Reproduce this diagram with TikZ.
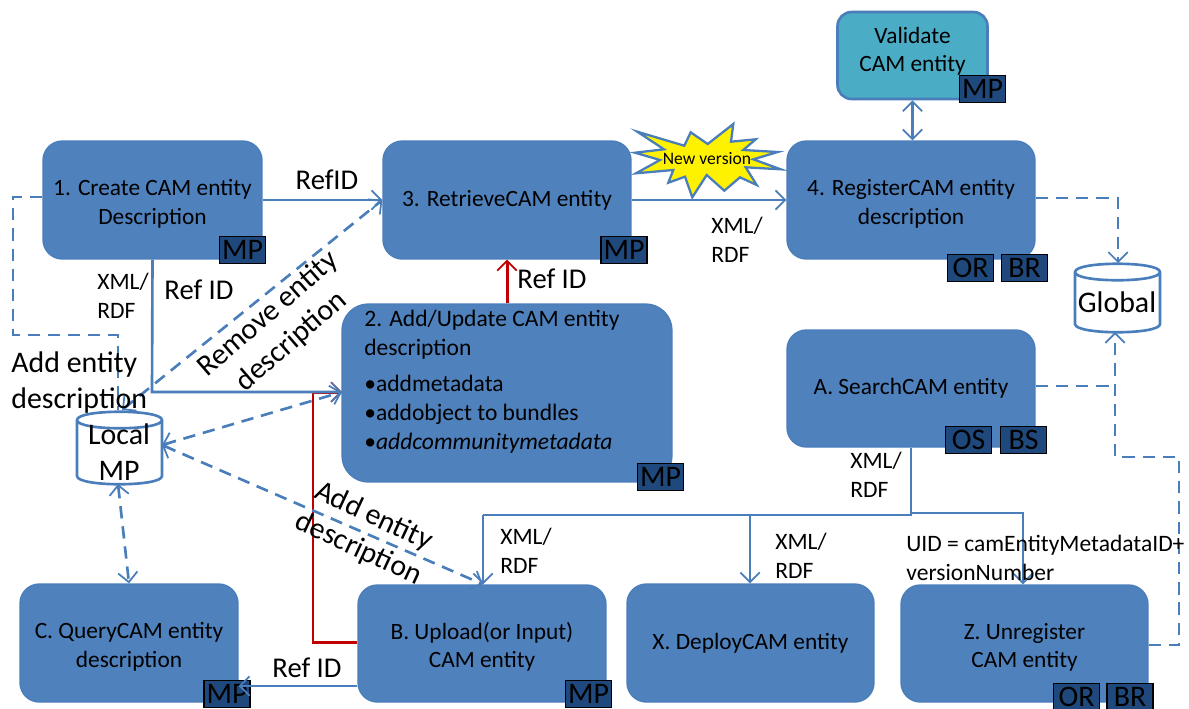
\documentclass[tikz,border=0pt]{standalone}
\usepackage{fontspec}
\setmainfont{Carlito}
\usetikzlibrary{arrows.meta}

\newcommand{\lowerline}{\rule{0pt}{13.5pt}}

\tikzset{
  >={Straight Barb[length=5.5pt,width=11pt,line width=1pt]},
  camline/.style={draw=camedge,line width=1.5pt},
  camdash/.style={camline,dash pattern=on 7pt off 4.5pt},
  redline/.style={draw=camred,line width=1.7pt},
  cambox/.style={fill=camblue,draw=camedge,line width=0.8pt,rounded corners=11pt,align=center,
    font=\fontsize{13.3}{16.4}\selectfont},
  badge/.style={fill=camnavy,draw=black,line width=1pt,inner sep=0pt,minimum width=0.92cm,minimum height=0.54cm,
    font=\fontsize{17}{17}\selectfont},
  camdb/.style={draw=camedge,line width=1.5pt,fill=white},
  small/.style={align=left,inner sep=0pt,anchor=west,font=\fontsize{13.4}{16.4}\selectfont},
  big/.style={align=left,inner sep=0pt,font=\fontsize{16.3}{19}\selectfont},
  slanted/.style={align=center,inner sep=0pt,font=\fontsize{17}{20.5}\selectfont},
}
\definecolor{camblue}{HTML}{4F81BD}
\definecolor{camedge}{HTML}{4A7EBB}
\definecolor{camteal}{HTML}{4BACC6}
\definecolor{camnavy}{HTML}{1F497D}
\definecolor{camred}{HTML}{C00000}

\begin{document}
\begin{tikzpicture}[x=0.02cm,y=-0.02cm]

\useasboundingbox (0,0) rectangle (1189,708);

% boxes
\node [cambox,minimum width=4.38cm,minimum height=2.36cm] (create) at (152.5,200) {\lowerline 1. Create CAM entity\\Description};
\node [cambox,minimum width=4.96cm,minimum height=2.36cm] (retrieve) at (507,200) {3. RetrieveCAM entity};
\node [cambox,minimum width=4.96cm,minimum height=2.36cm] (register) at (911,200) {\lowerline 4. RegisterCAM entity\\description};
\node [cambox,fill=camteal,line width=1.5pt,rounded corners=8pt,minimum width=3cm,minimum height=1.74cm] (validate) at (912.5,55.5) {Validate\\CAM entity\rule[-7pt]{0pt}{0pt}};
\node [cambox,rounded corners=15pt,minimum width=6.6cm,minimum height=3.56cm] (update) at (507,393) {};
\node [cambox,minimum width=4.96cm,minimum height=2.34cm] (search) at (911,388.5) {A. SearchCAM entity};
\node [cambox,minimum width=4.36cm,minimum height=2.36cm] (query) at (129,643) {\lowerline C. QueryCAM entity\\description};
\node [cambox,minimum width=4.96cm,minimum height=2.34cm] (upload) at (482,643.5) {\lowerline B. Upload(or Input)\\CAM entity};
\node [cambox,minimum width=4.94cm,minimum height=2.36cm] (deploy) at (750.5,643) {X. DeployCAM entity};
\node [cambox,minimum width=4.94cm,minimum height=2.34cm] (unregister) at (1024.5,643.5) {\lowerline Z. Unregister\\CAM entity};

\node [small] (updatetext) at (364,335) {2. Add/Update CAM entity\\description};
\node [small] (updatelist) at (364,414) {•addmetadata\\•addobject to bundles\\•\textit{addcommunitymetadata}};

% databases
\draw [camdb] (77,420) -- (77,476) .. controls (77,487) and (162,487) .. (162,476) -- (162,420)
  .. controls (162,409) and (77,409) .. (77,420) .. controls (77,431) and (162,431) .. (162,420);
\draw [camdb] (1075,272) -- (1075,324) .. controls (1075,335) and (1160,335) .. (1160,324) -- (1160,272)
  .. controls (1160,261) and (1075,261) .. (1075,272) .. controls (1075,283) and (1160,283) .. (1160,272);

% connectors
\coordinate (leftA) at (13,197);
\coordinate (leftB) at (13,335);
\coordinate (leftC) at (118,335);
\coordinate (localtop) at (122,410);
\coordinate (localin) at (118,410);
\coordinate (localright) at (162,445);
\coordinate (localbottom) at (118,484);
\coordinate (turnA) at (152,392);
\coordinate (updatein) at (342,392);
\coordinate (turnB) at (313,642);
\coordinate (turnC) at (313,392);
\coordinate (globaltop) at (1118,263);
\coordinate (globalbottom) at (1115,332);
\coordinate (turnD) at (1118,198);
\coordinate (turnE) at (1115,386);
\coordinate (turnF) at (1115,457);
\coordinate (turnG) at (1179,457);
\coordinate (turnH) at (1179,645);
\coordinate (treeA) at (911,515);
\coordinate (treeB) at (483,515);
\coordinate (treeC) at (750,515);
\coordinate (treeD) at (1023,513);
\coordinate (treeE) at (911,513);

\draw [redline,->] (upload.west |- turnB) -- (turnB) -- (turnC) -- (updatein);
\draw [redline,->] (update.north) -- (retrieve.south);

\draw [camline,->] (create.east) -- (retrieve.west);
\draw [camline,->] (create.south) -- (turnA) -- (updatein);
\draw [camline,->] (retrieve.east) -- (register.west);
\draw [camline,<->] (validate.south) -- (validate.south |- register.north);
\draw [camline] (search.south) -- (treeA) -- (treeB);
\draw [camline,->] (treeB) -- (treeB |- upload.north);
\draw [camline,->] (treeC) -- (treeC |- deploy.north);
\draw [camline,->] (treeE) -- (treeD) -- (treeD |- unregister.north);

\draw [camdash] (create.west |- leftA) -- (leftA) -- (leftB) -- (leftC) -- (localin);
\draw [camdash,<->] (localtop) -- (retrieve.west);
\draw [camdash,<->] (localright) -- (updatein);
\draw [camdash,<->] (localright) -- (treeB |- upload.north);
\draw [camdash,<->] (localbottom) -- (query.north);
\draw [camdash,->] (register.east |- turnD) -- (turnD) -- (globaltop);
\draw [camdash] (search.east |- turnE) -- (turnE);
\draw [camdash,->] (unregister.east |- turnH) -- (turnH) -- (turnG) -- (turnF) -- (globalbottom);

% star
\draw [camedge,fill=yellow,line width=1.3pt]
(637.3,131.7)--(684.3,145.7)--(690.7,132.3)--(707.7,144)--(733.3,124)--(731,141.7)--(755.7,139.3)--(743.3,150)--(777.7,152)--(753.3,159.3)--(780.7,169.3)--(745.7,167.3)--(756.7,185)--(740,177.3)--(724.3,190.7)--(706.7,175)--(692.3,197.3)--(685,176.7)--(668.3,182.7)--(673.3,170)--(636,173.3)--(660,160)--(635,152.7)--(664,149.3)--cycle;
\node [inner sep=0pt,font=\fontsize{10}{10}\selectfont] (newversion) at (707,159) {New version};

% badges
\node [badge] (createbadge) at (242.5,250) {MP};
\node [badge] (retrievebadge) at (624,250) {MP};
\node [badge] (validatebadge) at (982.5,89) {MP};
\node [badge] (registerA) at (970.5,268) {OR};
\node [badge] (registerB) at (1024.5,268) {BR};
\node [badge] (updatebadge) at (660.5,477) {MP};
\node [badge] (searchA) at (968.5,440) {OS};
\node [badge] (searchB) at (1023.5,440) {BS};
\node [badge] (querybadge) at (227,694) {MP};
\node [badge] (uploadbadge) at (588.5,694) {MP};
\node [badge] (unregisterA) at (1076.5,697) {OR};
\node [badge] (unregisterB) at (1130,697) {BR};

\draw [camline,->] (upload.west |- 0,686) -- (query.east |- 0,686);

% labels
\node [big] (refA) at (327,180) {RefID};
\node [big] (refB) at (199,290) {Ref ID};
\node [big] (refC) at (552,279) {Ref ID};
\node [big] (refD) at (307,668) {Ref ID};
\node [small] (xmlA) at (97,296) {XML/\\RDF};
\node [small] (xmlB) at (711,240) {XML/\\RDF};
\node [small] (xmlC) at (850,475) {XML/\\RDF};
\node [small] (xmlD) at (500,551) {XML/\\RDF};
\node [small] (xmlE) at (775,556) {XML/\\RDF};
\node [small] (uid) at (906,558) {UID = camEntityMetadataID+\\versionNumber};
\node [big,anchor=west,font=\fontsize{17}{20.5}\selectfont] (addleft) at (11,383) {Add entity\\description};
\node [big,align=center,font=\fontsize{17}{20.5}\selectfont] (localtext) at (119,452) {Local\\MP};
\node [big,font=\fontsize{17}{20.5}\selectfont] (globaltext) at (1117,302) {Global};
\node [slanted,rotate=41] (removetext) at (280,328) {Remove entity\\description};
\node [slanted,rotate=-25] (addtext) at (366,533) {Add entity\\description};

\end{tikzpicture}
\end{document}
